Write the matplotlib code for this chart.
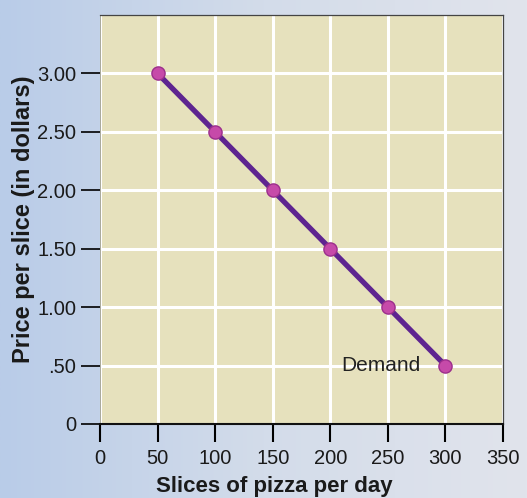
import matplotlib
matplotlib.use('Agg')
import numpy as np
from matplotlib import pyplot as plt
from matplotlib.colors import LinearSegmentedColormap

# demand schedule for pizza slices
slices = [50, 100, 150, 200, 250, 300]
price = [3.00, 2.50, 2.00, 1.50, 1.00, 0.50]

x_ticks = [0, 50, 100, 150, 200, 250, 300, 350]
y_ticks = [0, 0.5, 1.0, 1.5, 2.0, 2.5, 3.0]
y_tick_labels = ['0', '.50', '1.00', '1.50', '2.00', '2.50', '3.00']

fig = plt.figure(figsize=(5.27, 4.98), dpi=100)

# page background: bluish on the left fading to pale grey on the right
bg = fig.add_axes([0, 0, 1, 1], zorder=-10)
cmap = LinearSegmentedColormap.from_list('page', ['#b9cce8', '#d3dcea', '#e1e4ec'])
grad = np.linspace(0, 1, 256).reshape(1, -1)
bg.imshow(grad, aspect='auto', cmap=cmap, extent=[0, 1, 0, 1])
bg.axis('off')

ax = fig.add_axes([0.1898, 0.1486, 0.7647, 0.8213])
ax.set_facecolor('#e6e1bd')

ax.plot(slices, price, color='#5e2490', linewidth=3.8, zorder=3,
        marker='o', markersize=9.5, markerfacecolor='#c64aa9',
        markeredgecolor='#9c2f8c', markeredgewidth=1.0)

ax.annotate('Demand', xy=(slices[-1], price[-1]), xytext=(-18, 0),
            textcoords='offset points', ha='right', va='center',
            fontsize=15, color='#222222', family='Liberation Sans', zorder=4)

ax.set_xlim(0, 350)
ax.set_ylim(0, 3.5)
ax.set_xticks(x_ticks)
ax.set_yticks(y_ticks)
ax.set_yticklabels(y_tick_labels)
ax.grid(True, color='white', linewidth=2.2, zorder=1)
ax.set_axisbelow(True)

for lab in ax.get_xticklabels() + ax.get_yticklabels():
    lab.set_family('Liberation Sans')
    lab.set_fontsize(14.5)
    lab.set_color('#1a1a1a')

ax.tick_params(axis='x', direction='out', length=13, width=1.5, pad=5)
ax.tick_params(axis='y', direction='out', length=14, width=1.2, pad=3)

for s in ['top', 'right']:
    ax.spines[s].set_color('#444444')
    ax.spines[s].set_linewidth(0.9)
ax.spines['left'].set_color('#9a9a8a')
ax.spines['left'].set_linewidth(0.6)
ax.spines['bottom'].set_color('#111111')
ax.spines['bottom'].set_linewidth(1.5)

ax.set_xlabel('Slices of pizza per day', fontsize=16, fontweight='bold',
              family='Liberation Sans', color='#1a1a1a', labelpad=6)
ax.xaxis.label.set_x(0.433)
ax.set_ylabel('Price per slice (in dollars)', fontsize=17, fontweight='bold',
              family='Liberation Sans', color='#1a1a1a', labelpad=2)

fig.savefig('out.png', dpi=100)
